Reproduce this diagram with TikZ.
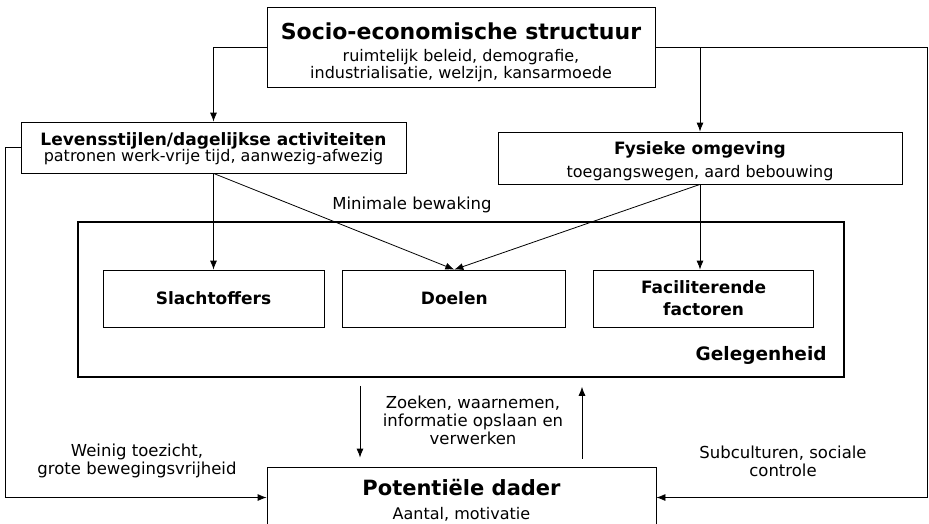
\documentclass[tikz,border=0pt]{standalone}
\usepackage{fontspec}
\setmainfont{DejaVu Sans}
\usetikzlibrary{arrows.meta,positioning,calc}

\begin{document}
\begin{tikzpicture}[
    x=1pt, y=-1pt,
    font=\fontsize{16.5}{18}\selectfont,
    box/.style={rectangle, draw, line width=0.8pt, align=center, inner sep=0pt},
    inbox/.style={rectangle, draw, line width=0.8pt, align=center, minimum width=221pt, minimum height=57pt, inner sep=0pt, font=\fontsize{17}{22}\selectfont\bfseries},
    frame/.style={rectangle, draw, line width=1.6pt, minimum width=766pt, minimum height=155pt},
    arrow/.style={-{Latex[length=9pt,width=7pt]}, line width=0.8pt},
    lbl/.style={align=center, inner sep=0pt},
    gap/.style={shorten <=8pt, shorten >=9pt}
]
    \useasboundingbox (0,0) rectangle (929,523);

    % boxes
    \node[box, minimum width=388pt, minimum height=80pt, font=\fontsize{16}{17}\selectfont] (socio) at (461,47)
        {\rule{0pt}{27pt}{\fontsize{22}{28}\selectfont\bfseries Socio-economische structuur}\\[5pt]ruimtelijk beleid, demografie,\\industrialisatie, welzijn, kansarmoede};
    \node[box, minimum width=385pt, minimum height=51pt, font=\fontsize{16}{16}\selectfont] (leven) at (213.5,147.5)
        {\rule{0pt}{16pt}{\fontsize{17}{20}\selectfont\bfseries Levensstijlen/dagelijkse activiteiten}\\patronen werk-vrije tijd, aanwezig-afwezig};
    \node[box, minimum width=404pt, minimum height=52pt, font=\fontsize{16}{23}\selectfont] (fysiek) at (700,158)
        {\rule{0pt}{19pt}{\fontsize{17}{20}\selectfont\bfseries Fysieke omgeving}\\toegangswegen, aard bebouwing};
    \node[frame] (gelegen) at (461,299.5) {};
    \node[inbox] (slacht) at (213.5,298.5) {Slachtoffers};
    \node[inbox, minimum width=223pt, right=18pt of slacht] (doelen) {Doelen};
    \node[inbox, minimum width=220pt, right=27pt of doelen] (facil) {Faciliterende\\factoren};
    \node[anchor=east, inner sep=0pt, font=\fontsize{18.5}{22}\selectfont\bfseries] (gelegenlbl)
        at ([xshift=-18pt,yshift=22pt]gelegen.south east) {Gelegenheid};
    \node[box, minimum width=389pt, minimum height=61pt, font=\fontsize{16}{20}\selectfont] (dader) at (461.5,497.5)
        {\rule{0pt}{22pt}{\fontsize{21}{26}\selectfont\bfseries Potentiële dader}\\[4pt]Aantal, motivatie};

    % labels
    \node[lbl] (bewaking) at (412,205) {Minimale bewaking};
    \node[lbl] (zoeken) at (473,420) {Zoeken, waarnemen,\\informatie opslaan en\\verwerken};
    \node[lbl] (toezicht) at (137,461) {Weinig toezicht,\\grote bewegingsvrijheid};
    \node[lbl] (subcult) at (783,461) {Subculturen, sociale\\controle};

    \coordinate (rturn) at (927,48);
    \coordinate (lturn) at (5,148);

    % connectors
    \draw[arrow] (socio.west) -| (leven.north);
    \draw[arrow] (socio.east) -| (fysiek.north);
    \draw[arrow] (socio.east) -- (socio.east -| rturn) |- (dader.east);
    \draw[arrow] (leven.west) -- (leven.west -| lturn) |- (dader.west);
    \draw[arrow] (leven.south) -- (slacht.north);
    \draw[arrow] (leven.south) -- (doelen.north);
    \draw[arrow] (fysiek.south) -- (doelen.north);
    \draw[arrow] (fysiek.south) -- (fysiek.south |- facil.north);
    \draw[arrow, gap] ([xshift=-101pt]gelegen.south) -- ([xshift=-101pt]gelegen.south |- dader.north);
    \draw[arrow, gap] ([xshift=121pt]gelegen.south |- dader.north) -- ([xshift=121pt]gelegen.south);
\end{tikzpicture}
\end{document}
